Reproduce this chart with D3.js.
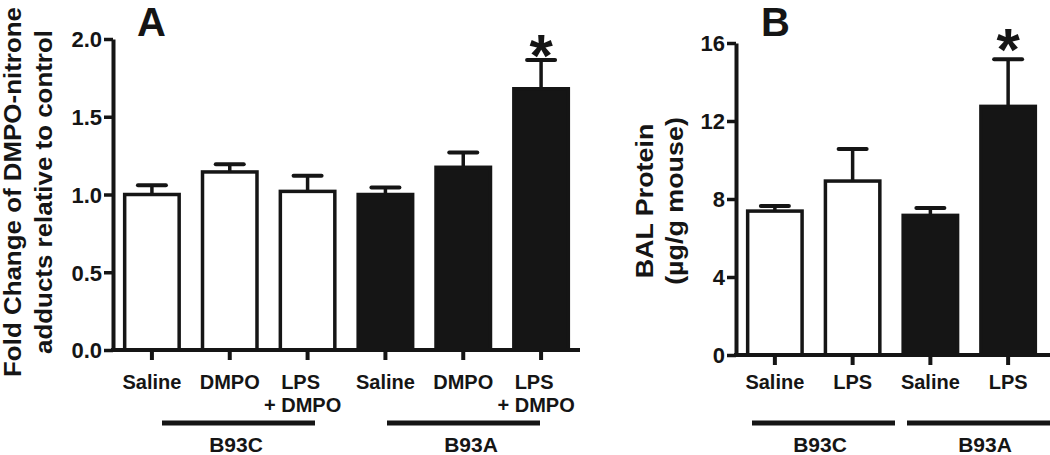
<!DOCTYPE html>
<html>
<head>
<meta charset="utf-8">
<script src="https://cdn.jsdelivr.net/npm/d3@7.9.0/dist/d3.min.js"></script>
<style>
  body { margin: 0; background: #fff; }
  svg text { font-family: 'Liberation Sans', Arial, sans-serif; font-weight: bold; fill: #151515; }
</style>
</head>
<body>
<svg width="1050" height="455"></svg>
<script>
// panel A: DMPO-nitrone adducts
const labelsA = [['Saline'], ['DMPO'], ['LPS', '+ DMPO'], ['Saline'], ['DMPO'], ['LPS', '+ DMPO']];
const strainA = ['B93C', 'B93C', 'B93C', 'B93A', 'B93A', 'B93A'];
const meansA = [1.00, 1.145, 1.02, 1.00, 1.175, 1.68];
const semA = [0.06, 0.05, 0.10, 0.045, 0.095, 0.185];
const starA = [false, false, false, false, false, true];
const ticksA = [0, 0.5, 1.0, 1.5, 2.0];

// panel B: BAL protein
const labelsB = [['Saline'], ['LPS'], ['Saline'], ['LPS']];
const strainB = ['B93C', 'B93C', 'B93A', 'B93A'];
const meansB = [7.38, 8.92, 7.16, 12.75];
const semB = [0.26, 1.65, 0.38, 2.42];
const starB = [false, false, false, true];
const ticksB = [0, 4, 8, 12, 16];

const ink = '#151515';
const svg = d3.select('svg');

function drawPanel(cfg) {
  const g = svg.append('g');
  const n = cfg.means.length;
  const idx = d3.range(n);

  const x = d3.scaleBand().domain(idx).range(cfg.xRange).paddingInner(0.3).paddingOuter(0.15);
  const y = d3.scaleLinear().domain([0, cfg.yMax]).range(cfg.yRange);
  const cx = i => x(i) + x.bandwidth() / 2;

  // bars
  g.selectAll('rect.bar')
    .data(idx)
    .join('rect')
    .attr('class', 'bar')
    .attr('x', i => x(i))
    .attr('width', x.bandwidth())
    .attr('y', i => y(cfg.means[i]))
    .attr('height', i => y(0) - y(cfg.means[i]))
    .attr('fill', i => cfg.strain[i] === 'B93A' ? ink : '#fff')
    .attr('stroke', ink)
    .attr('stroke-width', 3.5);

  // error bars, upper half only
  g.selectAll('line.err')
    .data(idx)
    .join('line')
    .attr('class', 'err')
    .attr('x1', cx).attr('x2', cx)
    .attr('y1', i => y(cfg.means[i]))
    .attr('y2', i => y(cfg.means[i] + cfg.sem[i]))
    .attr('stroke', ink).attr('stroke-width', 3.5);
  g.selectAll('line.cap')
    .data(idx)
    .join('line')
    .attr('class', 'cap')
    .attr('x1', i => cx(i) - 14).attr('x2', i => cx(i) + 14)
    .attr('y1', i => y(cfg.means[i] + cfg.sem[i]))
    .attr('y2', i => y(cfg.means[i] + cfg.sem[i]))
    .attr('stroke', ink).attr('stroke-width', 4).attr('stroke-linecap', 'round');

  g.selectAll('text.star')
    .data(idx.filter(i => cfg.star[i]))
    .join('text')
    .attr('class', 'star')
    .attr('x', cx)
    .attr('y', i => y(cfg.means[i] + cfg.sem[i]) + cfg.starDy)
    .attr('text-anchor', 'middle')
    .style('font-size', '60px')
    .text('*');

  // y axis
  const yAxis = g.append('g')
    .attr('transform', `translate(${cfg.xRange[0]},0)`)
    .call(d3.axisLeft(y).tickValues(cfg.ticks).tickFormat(cfg.fmt).tickSize(9).tickSizeOuter(0).tickPadding(2));
  yAxis.select('.domain').attr('stroke', ink).attr('stroke-width', 4);
  yAxis.selectAll('.tick line').attr('stroke', ink).attr('stroke-width', 3.5);
  yAxis.selectAll('.tick text').style('font-size', '22px').attr('fill', ink).attr('dy', '0.36em');

  // x axis
  const xAxis = g.append('g')
    .attr('transform', `translate(0,${y(0)})`)
    .call(d3.axisBottom(x).tickSize(10).tickSizeOuter(0).tickFormat(''));
  xAxis.select('.domain').attr('stroke', ink).attr('stroke-width', 4)
    .attr('d', `M${cfg.xRange[0] - 2},0H${cfg.axisEnd}`);
  xAxis.selectAll('.tick line').attr('stroke', ink).attr('stroke-width', 4);

  // category labels
  idx.forEach(i => {
    const two = cfg.labels[i].length > 1;
    const t = g.append('text')
      .attr('y', 389)
      .attr('text-anchor', 'middle')
      .style('font-size', '20px');
    cfg.labels[i].forEach((s, k) => {
      t.append('tspan')
        .attr('x', cx(i) + (two ? (k ? -5 : -7) : 0))
        .attr('dy', k ? 23 : 0)
        .text(s);
    });
  });

  // strain group lines
  const groups = Array.from(new Set(cfg.strain));
  groups.forEach((s, k) => {
    g.append('line')
      .attr('x1', cfg.groupSpan[k][0]).attr('x2', cfg.groupSpan[k][1])
      .attr('y1', 423).attr('y2', 423)
      .attr('stroke', ink).attr('stroke-width', 5);
    g.append('text')
      .attr('x', cfg.groupLabelX[k])
      .attr('y', 452)
      .attr('text-anchor', 'middle')
      .style('font-size', '21px')
      .text(s);
  });

  // y title, two lines, a bit stretched along the text
  cfg.title.forEach((s, k) => {
    g.append('text')
      .attr('transform', `translate(${cfg.titleX[k]},${cfg.titleY}) rotate(-90) scale(${cfg.titleStretch},1)`)
      .attr('text-anchor', 'middle')
      .style('font-size', '24px')
      .text(s);
  });

  // panel letter
  g.append('text')
    .attr('x', cfg.letterX).attr('y', 36)
    .style('font-size', cfg.letterSize + 'px')
    .text(cfg.letter);
}

drawPanel({
  means: meansA, sem: semA, star: starA, labels: labelsA, strain: strainA,
  ticks: ticksA, fmt: d3.format('.1f'), yMax: 2.0,
  xRange: [113, 580], axisEnd: 580, yRange: [350, 39],
  groupSpan: [[162, 315], [387, 540]], groupLabelX: [236, 471],
  title: ['Fold Change of DMPO-nitrone', 'adducts relative to control'],
  titleX: [21, 52], titleY: 192, titleStretch: 1.08,
  letter: 'A', letterX: 137, letterSize: 40, starDy: 16
});

drawPanel({
  means: meansB, sem: semB, star: starB, labels: labelsB, strain: strainB,
  ticks: ticksB, fmt: d3.format('d'), yMax: 16,
  xRange: [736, 1047], axisEnd: 1050, yRange: [355, 43],
  groupSpan: [[752, 895], [907, 1050]], groupLabelX: [820, 985],
  title: ['BAL Protein', '(µg/g mouse)'],
  titleX: [653, 683], titleY: 201, titleStretch: 1.12,
  letter: 'B', letterX: 761, letterSize: 40, starDy: 11
});
</script>
</body>
</html>
